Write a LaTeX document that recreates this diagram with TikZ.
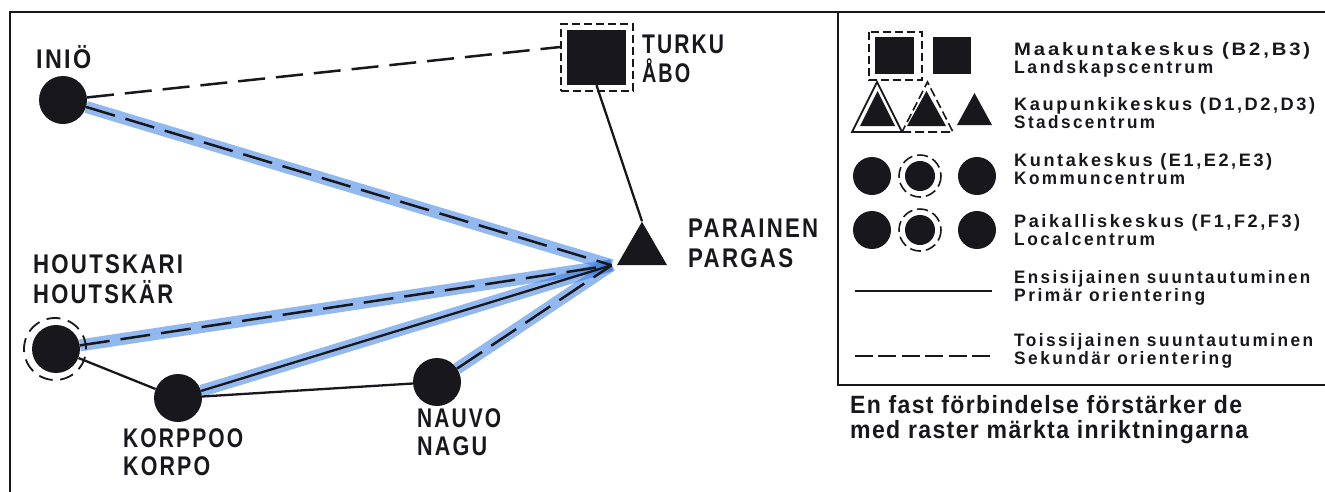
\documentclass[tikz,border=0pt]{standalone}
\usepackage{fontspec}
\usepackage{graphicx}
\usetikzlibrary{shapes.geometric,backgrounds,calc}

% condensed bold grotesque with open tracking
\newfontfamily\condbold{Liberation Sans Bold}[FakeStretch=0.8,LetterSpace=8]
\newfontfamily\keybold{Liberation Sans Bold}[FakeStretch=0.85,LetterSpace=12]
\newfontfamily\notebold{Liberation Sans Bold}[FakeStretch=0.85,LetterSpace=5]
% stretch a line of text to a given width, keeping its height
\newcommand{\fitw}[2]{\resizebox{#1pt}{\height}{#2}}

\definecolor{ink}{RGB}{24,24,28}
\definecolor{raster}{RGB}{55,125,225}

\tikzset{
  frameline/.style={draw=ink, line width=2.6pt, line cap=rect},
  town/.style={circle, fill=ink, inner sep=0pt, minimum size=48pt},
  ringdash/.style={circle, draw=ink, line width=1.8pt, inner sep=0pt,
                   minimum size=62pt, dash pattern=on 14pt off 7.6pt},
  city/.style={regular polygon, regular polygon sides=3, fill=ink,
               inner sep=0pt, minimum size=57.7pt},
  capital/.style={rectangle, fill=ink, inner sep=0pt,
                  minimum width=59pt, minimum height=55pt},
  capbox/.style={rectangle, draw=ink, line width=1.8pt, inner sep=0pt,
                 minimum width=72pt, minimum height=67pt,
                 dash pattern=on 8pt off 4pt},
  primary/.style={draw=ink, line width=2.3pt},
  secondary/.style={draw=ink, line width=2.5pt, dash pattern=on 27pt off 11pt},
  secband/.style={draw=ink, line width=2.5pt, dash pattern=on 30pt off 11pt},
  band/.style={draw=raster, line width=12pt, draw opacity=0.55},
  maptext/.style={anchor=base west, inner sep=0pt, text=ink,
                  font=\condbold\fontsize{27}{27}\selectfont},
  keytext/.style={anchor=base west, inner sep=0pt, text=ink,
                  font=\keybold\fontsize{18}{18}\selectfont},
  notetext/.style={anchor=base west, inner sep=0pt, text=ink,
                   font=\notebold\fontsize{25}{25}\selectfont},
  keyfill/.style={fill=ink},
  keyring/.style={draw=ink, line width=1.6pt, dash pattern=on 11pt off 5pt},
}

\begin{document}
\begin{tikzpicture}[x=1pt, y=-1pt]
\useasboundingbox (0,0) rectangle (1325,491);

% outer frame and legend box
\draw[frameline] (10,491) -- (10,12) -- (1325,12);
\draw[frameline] (838,12) -- (838,385) -- (1325,385);

% places
\node[town] (ini) at (63,100) {};
\node[ringdash] (houring) at (55,349) {};
\node[town] (hou) at (56,349) {};
\node[town] (kor) at (178,398) {};
\node[town] (nau) at (437,382) {};
\node[city] (par) at (642,250.6) {};
\node[capbox] (turbox) at (597,57.5) {};
\node[capital] (tur) at (596.5,57.5) {};

\coordinate (hub) at ([xshift=-5pt]par.corner 2);
\coordinate (turin) at ($(turbox.west)+(0,-10.5)$);

% connections: raster bands underneath, lines on top
\begin{scope}[on background layer]
  \draw[band] (ini) -- (hub);
  \draw[band] (hou) -- (hub);
  \draw[band] (kor) -- (hub);
  \draw[band] (nau) -- (hub);
  \draw[secband] (ini) -- (hub);
  \draw[secband] (hou) -- (hub);
  \draw[primary] (kor) -- (hub);
  \draw[secband] (nau) -- (hub);
  \draw[secondary] (ini) -- (turin);
  \draw[primary] (tur.south) -- (par.corner 1);
  \draw[primary] (hou) -- (kor);
  \draw[primary] (kor) -- (nau);
\end{scope}

% place names
\node[maptext] (iniL) at (36,68) {\fitw{55}{INIÖ}};
\node[maptext] (turL1) at (642,53) {\fitw{82}{TURKU}};
\node[maptext] (turL2) at (642,82) {\fitw{48}{ÅBO}};
\node[maptext] (parL1) at (688,237) {\fitw{130}{PARAINEN}};
\node[maptext] (parL2) at (688,267) {\fitw{105}{PARGAS}};
\node[maptext] (houL1) at (33,273) {\fitw{150}{HOUTSKARI}};
\node[maptext] (houL2) at (33,303) {\fitw{140}{HOUTSKÄR}};
\node[maptext] (korL1) at (123,447) {\fitw{120}{KORPPOO}};
\node[maptext] (korL2) at (123,475) {\fitw{87}{KORPO}};
\node[maptext] (nauL1) at (417,427) {\fitw{84}{NAUVO}};
\node[maptext] (nauL2) at (417,455) {\fitw{70}{NAGU}};

% legend symbols: regional centres
\draw[keyring, dash pattern=on 8pt off 4pt] (869,32) rectangle (922,80);
\fill[keyfill] (875,37) rectangle (914,74);
\fill[keyfill] (933,37) rectangle (971,74);

% legend symbols: town centres
\draw[draw=ink, line width=1.8pt] (852,132) -- (902,132) -- (877,82) -- cycle;
\fill[keyfill] (860,126) -- (895,126) -- (877.5,91) -- cycle;
\draw[keyring, dash pattern=on 9pt off 4pt] (902,132) -- (953,132) -- (927.5,82) -- cycle;
\fill[keyfill] (907,126) -- (946,126) -- (926.5,91) -- cycle;
\fill[keyfill] (957,125) -- (992,125) -- (974.5,93) -- cycle;

% legend symbols: municipal and local centres
\foreach \yy in {176,230}{
  \fill[keyfill] (872,\yy) circle[radius=19];
  \draw[keyring] (920,\yy) circle[radius=21];
  \fill[keyfill] (920,\yy) circle[radius=15];
  \fill[keyfill] (977,\yy) circle[radius=19];
}

% legend symbols: orientation lines
\draw[draw=ink, line width=2.5pt] (855,291) -- (992,291);
\draw[draw=ink, line width=2.5pt, dash pattern=on 18pt off 5.4pt] (855,356) -- (992,356);

% legend texts
\node[keytext] (k1a) at (1014,55) {\fitw{296}{Maakuntakeskus (B2,B3)}};
\node[keytext] (k1b) at (1014,73) {\fitw{199}{Landskapscentrum}};
\node[keytext] (k2a) at (1014,110) {\fitw{301}{Kaupunkikeskus (D1,D2,D3)}};
\node[keytext] (k2b) at (1014,128) {\fitw{141}{Stadscentrum}};
\node[keytext] (k3a) at (1014,166) {\fitw{258}{Kuntakeskus (E1,E2,E3)}};
\node[keytext] (k3b) at (1014,184) {\fitw{171}{Kommuncentrum}};
\node[keytext] (k4a) at (1014,227) {\fitw{286}{Paikalliskeskus (F1,F2,F3)}};
\node[keytext] (k4b) at (1014,245) {\fitw{141}{Localcentrum}};
\node[keytext] (k5a) at (1014,283) {\fitw{296}{Ensisijainen suuntautuminen}};
\node[keytext] (k5b) at (1014,301) {\fitw{191}{Primär orientering}};
\node[keytext] (k6a) at (1014,346) {\fitw{299}{Toissijainen suuntautuminen}};
\node[keytext] (k6b) at (1014,364) {\fitw{218}{Sekundär orientering}};

% note below the legend
\node[notetext] (note1) at (850,413) {\fitw{392}{En fast förbindelse förstärker de}};
\node[notetext] (note2) at (850,438) {\fitw{398}{med raster märkta inriktningarna}};
\end{tikzpicture}
\end{document}
